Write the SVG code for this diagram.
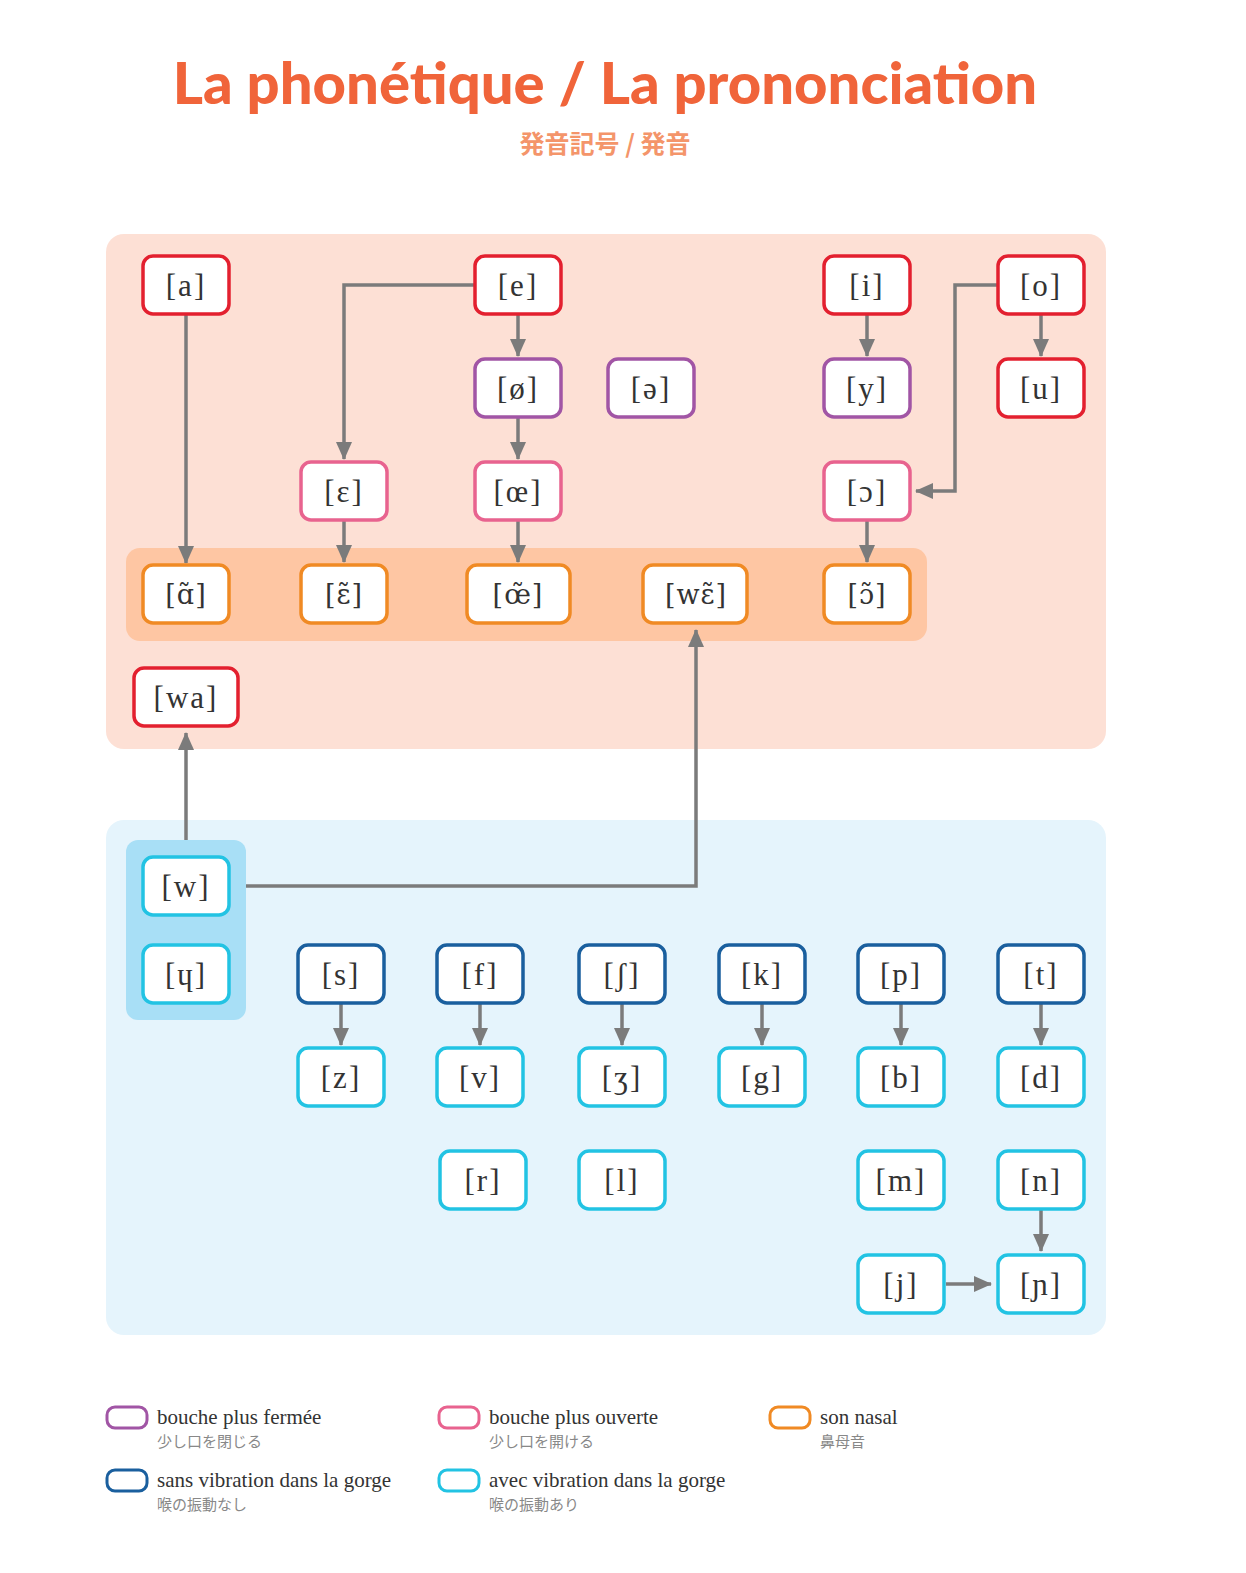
<svg xmlns="http://www.w3.org/2000/svg" width="1246" height="1573" viewBox="0 0 1246 1573">
<style>
.n rect{fill:#fff;stroke-width:3.5}
.n text{font-family:"Liberation Serif","DejaVu Serif",serif;font-size:31px;fill:#333;text-anchor:middle;letter-spacing:2px}
.org text{font-family:"DejaVu Serif",serif;font-size:27px;letter-spacing:1px}
.red rect{stroke:#e3202f}.pur rect{stroke:#a155a5}.pnk rect{stroke:#e8638f}.org rect{stroke:#f08a24}.dbl rect{stroke:#1a5f9e}.cyn rect{stroke:#22c3e3}
.c path{fill:none;stroke:#7b7b7b;stroke-width:3.5;marker-end:url(#ah)}
.lg{font-family:"Liberation Serif",serif;font-size:21px;fill:#333}
.lj{font-family:"Noto Sans CJK JP",sans-serif;font-size:15px;fill:#888}
.lr{fill:#fff;stroke-width:3}
</style>
<defs>
<marker id="ah" markerUnits="userSpaceOnUse" markerWidth="18" markerHeight="18" viewBox="0 0 18 18" refX="17" refY="9" orient="auto"><path d="M0,1 L18,9 L0,17 Z" fill="#7b7b7b"/></marker>
</defs>
<rect width="1246" height="1573" fill="#fff"/>
<text x="605" y="104" text-anchor="middle" font-family="Lato,'Liberation Sans',sans-serif" font-weight="900" font-size="58" fill="#f0643a">La phonétique / La prononciation</text>
<text x="605" y="153" text-anchor="middle" font-family="'Noto Sans CJK JP',sans-serif" font-weight="700" font-size="25" fill="#f4956a">発音記号 / 発音</text>
<rect x="106" y="234" width="1000" height="515" rx="18" fill="#fde0d5"/>
<rect x="126" y="548" width="801" height="93" rx="14" fill="#fec6a3"/>
<rect x="106" y="820" width="1000" height="515" rx="18" fill="#e5f4fc"/>
<rect x="126" y="840" width="120" height="180" rx="12" fill="#a8dff6"/>
<g class="c" id="connectors">
<path d="M186,314 V563"/>
<path d="M475,285 H344 V459"/>
<path d="M518,314 V356"/>
<path d="M518,418 V459"/>
<path d="M867,314 V356"/>
<path d="M1041,314 V356"/>
<path d="M998,285 H955 V491 H916"/>
<path d="M344,521 V562"/>
<path d="M518,521 V562"/>
<path d="M867,521 V562"/>
<path d="M186,840 V733"/>
<path d="M246,886 H696 V630"/>
<path d="M341,1004 V1045"/>
<path d="M480,1004 V1045"/>
<path d="M622,1004 V1045"/>
<path d="M762,1004 V1045"/>
<path d="M901,1004 V1045"/>
<path d="M1041,1004 V1045"/>
<path d="M1041,1210 V1251"/>
<path d="M946,1284 H991"/>
</g>
<g id="a" class="n red"><rect x="143" y="256" width="86" height="58" rx="10"/><text x="186" y="296">[a]</text></g>
<g id="e" class="n red"><rect x="475" y="256" width="86" height="58" rx="10"/><text x="518" y="296">[e]</text></g>
<g id="i" class="n red"><rect x="824" y="256" width="86" height="58" rx="10"/><text x="867" y="296">[i]</text></g>
<g id="o" class="n red"><rect x="998" y="256" width="86" height="58" rx="10"/><text x="1041" y="296">[o]</text></g>
<g id="oe2" class="n pur"><rect x="475" y="359" width="86" height="58" rx="10"/><text x="518" y="399">[ø]</text></g>
<g id="schwa" class="n pur"><rect x="608" y="359" width="86" height="58" rx="10"/><text x="651" y="399">[ə]</text></g>
<g id="y" class="n pur"><rect x="824" y="359" width="86" height="58" rx="10"/><text x="867" y="399">[y]</text></g>
<g id="u" class="n red"><rect x="998" y="359" width="86" height="58" rx="10"/><text x="1041" y="399">[u]</text></g>
<g id="eps" class="n pnk"><rect x="301" y="462" width="86" height="58" rx="10"/><text x="344" y="502">[ɛ]</text></g>
<g id="oe" class="n pnk"><rect x="475" y="462" width="86" height="58" rx="10"/><text x="518" y="502">[œ]</text></g>
<g id="open-o" class="n pnk"><rect x="824" y="462" width="86" height="58" rx="10"/><text x="867" y="502">[ɔ]</text></g>
<g id="an" class="n org"><rect x="143" y="565" width="86" height="58" rx="10"/><text x="186" y="604">[ɑ̃]</text></g>
<g id="in" class="n org"><rect x="301" y="565" width="86" height="58" rx="10"/><text x="344" y="604">[ɛ̃]</text></g>
<g id="un" class="n org"><rect x="467" y="565" width="103" height="58" rx="10"/><text x="518" y="604">[œ̃]</text></g>
<g id="wein" class="n org"><rect x="643" y="565" width="104" height="58" rx="10"/><text x="696" y="604">[wɛ̃]</text></g>
<g id="on" class="n org"><rect x="824" y="565" width="86" height="58" rx="10"/><text x="867" y="604">[ɔ̃]</text></g>
<g id="wa" class="n red"><rect x="134" y="668" width="104" height="58" rx="10"/><text x="186" y="708">[wa]</text></g>
<g id="w" class="n cyn"><rect x="143" y="857" width="86" height="58" rx="10"/><text x="186" y="897">[w]</text></g>
<g id="h" class="n cyn"><rect x="143" y="945" width="86" height="58" rx="10"/><text x="186" y="985">[ɥ]</text></g>
<g id="s" class="n dbl"><rect x="298" y="945" width="86" height="58" rx="10"/><text x="341" y="985">[s]</text></g>
<g id="f" class="n dbl"><rect x="437" y="945" width="86" height="58" rx="10"/><text x="480" y="985">[f]</text></g>
<g id="sh" class="n dbl"><rect x="579" y="945" width="86" height="58" rx="10"/><text x="622" y="985">[ʃ]</text></g>
<g id="k" class="n dbl"><rect x="719" y="945" width="86" height="58" rx="10"/><text x="762" y="985">[k]</text></g>
<g id="p" class="n dbl"><rect x="858" y="945" width="86" height="58" rx="10"/><text x="901" y="985">[p]</text></g>
<g id="t" class="n dbl"><rect x="998" y="945" width="86" height="58" rx="10"/><text x="1041" y="985">[t]</text></g>
<g id="z" class="n cyn"><rect x="298" y="1048" width="86" height="58" rx="10"/><text x="341" y="1088">[z]</text></g>
<g id="v" class="n cyn"><rect x="437" y="1048" width="86" height="58" rx="10"/><text x="480" y="1088">[v]</text></g>
<g id="zh" class="n cyn"><rect x="579" y="1048" width="86" height="58" rx="10"/><text x="622" y="1088">[ʒ]</text></g>
<g id="g" class="n cyn"><rect x="719" y="1048" width="86" height="58" rx="10"/><text x="762" y="1088">[g]</text></g>
<g id="b" class="n cyn"><rect x="858" y="1048" width="86" height="58" rx="10"/><text x="901" y="1088">[b]</text></g>
<g id="d" class="n cyn"><rect x="998" y="1048" width="86" height="58" rx="10"/><text x="1041" y="1088">[d]</text></g>
<g id="r" class="n cyn"><rect x="440" y="1151" width="86" height="58" rx="10"/><text x="483" y="1191">[r]</text></g>
<g id="l" class="n cyn"><rect x="579" y="1151" width="86" height="58" rx="10"/><text x="622" y="1191">[l]</text></g>
<g id="m" class="n cyn"><rect x="858" y="1151" width="86" height="58" rx="10"/><text x="901" y="1191">[m]</text></g>
<g id="nn" class="n cyn"><rect x="998" y="1151" width="86" height="58" rx="10"/><text x="1041" y="1191">[n]</text></g>
<g id="j" class="n cyn"><rect x="858" y="1255" width="86" height="58" rx="10"/><text x="901" y="1295">[j]</text></g>
<g id="gn" class="n cyn"><rect x="998" y="1255" width="86" height="58" rx="10"/><text x="1041" y="1295">[ɲ]</text></g>
<g id="legend">
<rect class="lr" x="107" y="1407" width="40" height="21" rx="8" stroke="#a155a5"/>
<text class="lg" x="157" y="1424">bouche plus fermée</text><text class="lj" x="157" y="1447">少し口を閉じる</text>
<rect class="lr" x="439" y="1407" width="40" height="21" rx="8" stroke="#e8638f"/>
<text class="lg" x="489" y="1424">bouche plus ouverte</text><text class="lj" x="489" y="1447">少し口を開ける</text>
<rect class="lr" x="770" y="1407" width="40" height="21" rx="8" stroke="#f08a24"/>
<text class="lg" x="820" y="1424">son nasal</text><text class="lj" x="820" y="1447">鼻母音</text>
<rect class="lr" x="107" y="1470" width="40" height="21" rx="8" stroke="#1a5f9e"/>
<text class="lg" x="157" y="1487">sans vibration dans la gorge</text><text class="lj" x="157" y="1510">喉の振動なし</text>
<rect class="lr" x="439" y="1470" width="40" height="21" rx="8" stroke="#22c3e3"/>
<text class="lg" x="489" y="1487">avec vibration dans la gorge</text><text class="lj" x="489" y="1510">喉の振動あり</text>
</g>
</svg>
